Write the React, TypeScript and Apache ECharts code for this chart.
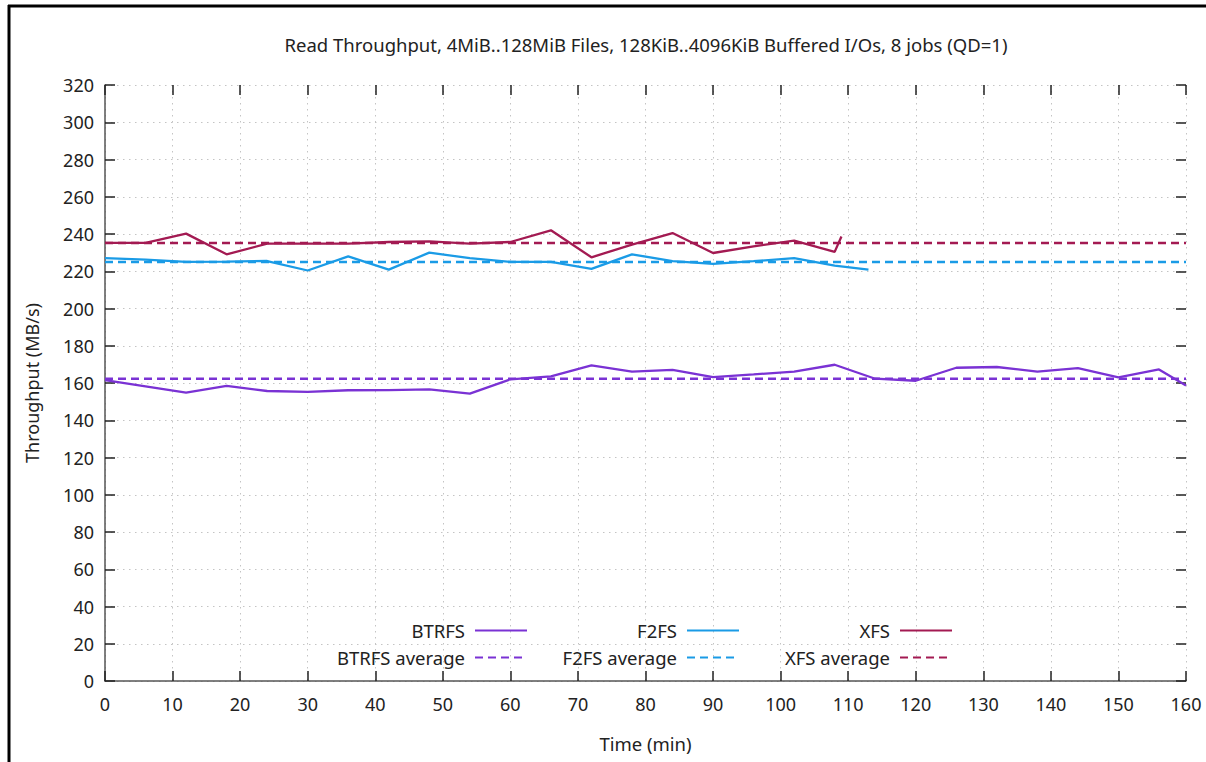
import React, { useEffect, useRef } from "react";
import * as echarts from "echarts";

const titleText = "Read Throughput, 4MiB..128MiB Files, 128KiB..4096KiB Buffered I/Os, 8 jobs (QD=1)";

const btrfsTimes = [0, 6, 12, 18, 24, 30, 36, 42, 48, 54, 60, 66, 72, 78, 84, 90, 96, 102, 108, 114, 120, 126, 132, 138, 144, 150, 156, 160];
const btrfsValues = [161.6, 158.2, 154.8, 158.4, 155.7, 155.2, 156.1, 156.2, 156.6, 154.3, 162.0, 163.6, 169.5, 166.1, 167.1, 163.2, 164.6, 166.1, 169.8, 162.3, 161.2, 168.2, 168.6, 166.1, 168.0, 163.0, 167.3, 158.7];

const f2fsTimes = [0, 6, 12, 18, 24, 30, 36, 42, 48, 54, 60, 66, 72, 78, 84, 90, 96, 102, 108, 113];
const f2fsValues = [227.1, 226.2, 225.0, 225.2, 225.5, 220.4, 228.0, 220.9, 230.0, 227.0, 225.0, 225.0, 221.3, 229.1, 225.4, 224.0, 225.4, 227.0, 223.0, 220.9];

const xfsTimes = [0, 6, 12, 18, 24, 30, 36, 42, 48, 54, 60, 66, 72, 78, 84, 90, 96, 102, 108, 109];
const xfsValues = [235.2, 235.2, 240.2, 229.1, 234.8, 234.8, 234.8, 235.7, 236.0, 234.8, 235.7, 242.0, 227.5, 234.3, 240.5, 229.8, 233.4, 236.4, 230.4, 238.7];

const btrfsAverage = 162.3;
const f2fsAverage = 225.0;
const xfsAverage = 235.2;

const timeRange = [0, 160];

const COLORS = { btrfs: "#7a32d4", f2fs: "#1a9be6", xfs: "#a31a52" };
const FONT = "'Noto Sans', 'Open Sans', sans-serif";

const pairs = (xs: number[], ys: number[]) => xs.map((x, i) => [x, ys[i]]);
const flat = (v: number) => timeRange.map((x) => [x, v]);

export default function App() {
  const ref = useRef<HTMLDivElement>(null);
  useEffect(() => {
    if (!ref.current) return;
    const chart = echarts.init(ref.current, null, { renderer: "svg" });
    const solid = (name: string, color: string, data: number[][]) => ({
      name, type: "line", data, symbol: "none", z: 3,
      lineStyle: { color, width: 2.3 }, itemStyle: { color },
    });
    const dashed = (name: string, color: string, data: number[][]) => ({
      name, type: "line", data, symbol: "none", z: 2,
      lineStyle: { color, width: 2.4, type: [8, 5] }, itemStyle: { color },
    });
    const legendItem = (name: string, right: number, top: number) => ({
      data: [name], orient: "horizontal", align: "right", right, top, padding: 0,
      itemWidth: 52, itemHeight: 14,
      itemStyle: { color: "rgba(0,0,0,0)", borderWidth: 0 },
      textStyle: { fontSize: 18.5, color: "#222", fontFamily: FONT, padding: [0, 5, 0, 0] },
    });
    const tickLabel = { fontSize: 18, color: "#222", fontFamily: FONT };
    const tick = { show: true, length: -10, lineStyle: { color: "#222", width: 1.5 } };
    const grid = { show: true, lineStyle: { color: "#c4c4c4", width: 1, type: [1.5, 4.5] } };
    const hiddenLine = { show: true, lineStyle: { color: "rgba(0,0,0,0)", width: 1 } };
    chart.setOption({
      animation: false,
      backgroundColor: "#fff",
      title: {
        text: titleText, left: 646, top: 35, textAlign: "center", padding: 0,
        textStyle: { fontSize: 18.5, fontWeight: "normal", color: "#222", fontFamily: FONT },
      },
      grid: { left: 105, right: 20, top: 85, bottom: 81 },
      legend: [
        legendItem("BTRFS", 678, 621),
        legendItem("BTRFS average", 678, 648),
        legendItem("F2FS", 466, 621),
        legendItem("F2FS average", 466, 648),
        legendItem("XFS", 253, 621),
        legendItem("XFS average", 253, 648),
      ],
      xAxis: [
        {
          type: "value", min: 0, max: 160, interval: 10, position: "bottom",
          name: "Time (min)", nameLocation: "middle", nameGap: 53,
          nameTextStyle: { fontSize: 18.5, color: "#222", fontFamily: FONT },
          axisLine: { show: true, onZero: false, lineStyle: { color: "#555", width: 1.5 } },
          axisTick: tick,
          axisLabel: { ...tickLabel, margin: 14 },
          splitLine: grid,
        },
        {
          type: "value", min: 0, max: 160, interval: 10, position: "top",
          axisLine: { ...hiddenLine, onZero: false },
          axisTick: tick,
          axisLabel: { show: false },
          splitLine: { show: false },
        },
      ],
      yAxis: [
        {
          type: "value", min: 0, max: 320, interval: 20, position: "left",
          name: "Throughput (MB/s)", nameLocation: "middle", nameGap: 64,
          nameTextStyle: { fontSize: 18, color: "#222", fontFamily: FONT },
          axisLine: { show: true, onZero: false, lineStyle: { color: "#555", width: 1.5 } },
          axisTick: tick,
          axisLabel: { ...tickLabel, margin: 11 },
          splitLine: grid,
        },
        {
          type: "value", min: 0, max: 320, interval: 20, position: "right",
          axisLine: { ...hiddenLine, onZero: false },
          axisTick: tick,
          axisLabel: { show: false },
          splitLine: { show: false },
        },
      ],
      graphic: [
        { type: "line", shape: { x1: 8, y1: 6, x2: 1206, y2: 6 }, style: { stroke: "#000", lineWidth: 3 } },
        { type: "line", shape: { x1: 9, y1: 5, x2: 9, y2: 762 }, style: { stroke: "#000", lineWidth: 3 } },
      ],
      series: [
        solid("BTRFS", COLORS.btrfs, pairs(btrfsTimes, btrfsValues)),
        dashed("BTRFS average", COLORS.btrfs, flat(btrfsAverage)),
        solid("F2FS", COLORS.f2fs, pairs(f2fsTimes, f2fsValues)),
        dashed("F2FS average", COLORS.f2fs, flat(f2fsAverage)),
        solid("XFS", COLORS.xfs, pairs(xfsTimes, xfsValues)),
        dashed("XFS average", COLORS.xfs, flat(xfsAverage)),
      ],
    });
    return () => chart.dispose();
  }, []);
  return (
    <div
      ref={ref}
      style={{ position: "absolute", left: 0, top: 0, width: 1206, height: 762 }}
    />
  );
}
